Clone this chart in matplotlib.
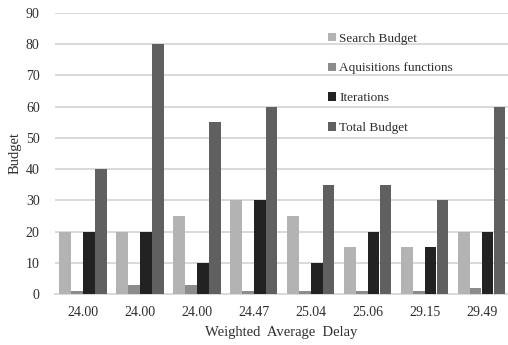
import numpy as np
import matplotlib
matplotlib.use('Agg')
import matplotlib.pyplot as plt

plt.rcParams['font.family'] = ['Liberation Serif', 'DejaVu Serif']

# ------------------------------------ 数据 ------------------------------------ #
delays = ['24.00', '24.00', '24.00', '24.47', '25.04', '25.06', '29.15', '29.49']
search_budget = [20, 20, 25, 30, 25, 15, 15, 20]
aquisitions = [1, 3, 3, 1, 1, 1, 1, 2]
iterations = [20, 20, 10, 30, 10, 20, 15, 20]
total_budget = [40, 80, 55, 60, 35, 35, 30, 60]

series_names = ['Search Budget', 'Aquisitions functions', 'Iterations', 'Total Budget']
series_colors = ['#b3b3b3', '#8c8c8c', '#222222', '#606060']

# %% 绘图
fig = plt.figure(figsize=(5.08, 3.45), dpi=100)
ax = fig.add_axes([55 / 508, 1 - 294 / 345, 453 / 508, (294 - 13) / 345])

x = np.arange(len(delays))
w = 0.21
for i, (vals, name, col) in enumerate(zip([search_budget, aquisitions, iterations, total_budget],
                                          series_names, series_colors)):
    ax.bar(x + (i - 1.5) * w, vals, width=w * 0.95, color=col, label=name, zorder=3)

ax.set_ylim(0, 90)
ax.set_yticks(range(0, 91, 10))
ax.set_xlim(-0.49, 7.46)
ax.set_xticks(x)
ax.set_xticklabels(delays)
ax.yaxis.grid(True, color='#d9d9d9', linewidth=1.4, zorder=0)
for s in ['top', 'right', 'left']:
    ax.spines[s].set_visible(False)
ax.spines['bottom'].set_color('#d9d9d9')
ax.spines['bottom'].set_linewidth(1.4)
ax.tick_params(axis='both', length=0, labelsize=10, colors='#2e2e2e')
ax.tick_params(axis='x', pad=9)
ax.tick_params(axis='y', pad=11)

ax.set_xlabel('Weighted  Average  Delay', fontsize=10.5, color='#2e2e2e', labelpad=5)
ax.set_ylabel('Budget', fontsize=10.5, color='#2e2e2e', labelpad=3)

fig.legend(loc='upper left', bbox_to_anchor=(321 / 508, 1 - 26 / 345), frameon=False,
           fontsize=9.5, handlelength=0.6, handleheight=0.6, handletextpad=0.3,
           labelspacing=1.35, borderpad=0, labelcolor='#2e2e2e')

plt.savefig('out.png', dpi=100)
plt.close()
